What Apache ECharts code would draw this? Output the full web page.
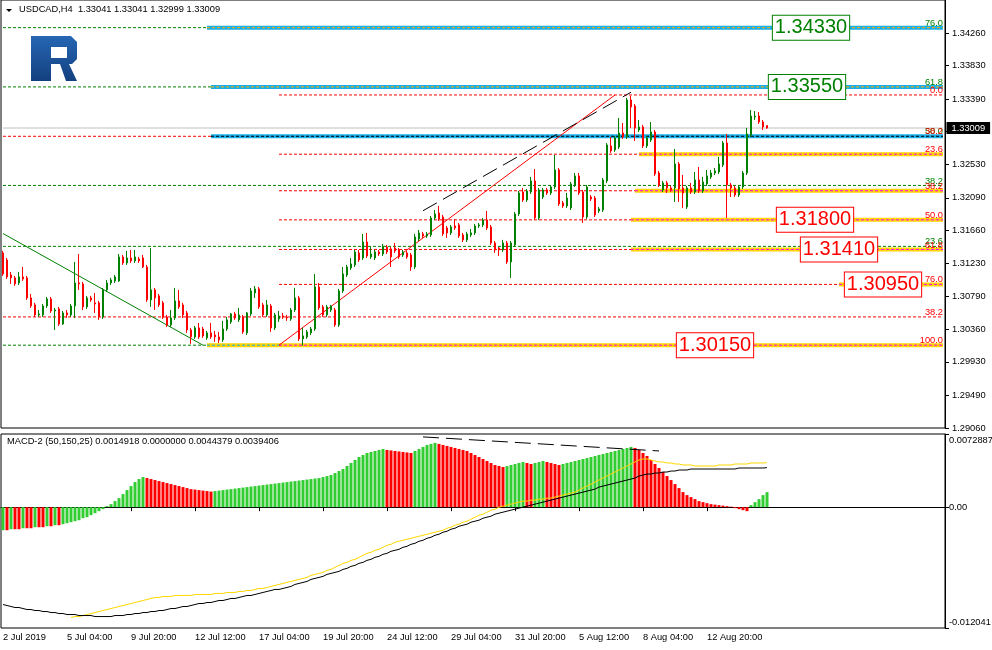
<!DOCTYPE html>
<html><head><meta charset="utf-8">
<script src="https://cdn.jsdelivr.net/npm/echarts@6/dist/echarts.min.js"></script>
<style>html,body{margin:0;padding:0;background:#fff}#c{width:992px;height:650px}</style>
</head><body><div id="c"></div>
<script>
// ---------- DATA ----------
// candles: [open, close, low, high]  (USDCAD H4)
const candles = [
[1.31365,1.31088,1.31062,1.31391],[1.31272,1.31049,1.31022,1.31299],[1.31075,1.31036,1.30957,1.31114],[1.31036,1.30957,1.30930,1.31062],
[1.30970,1.31049,1.30943,1.31114],[1.31049,1.31022,1.30996,1.31180],[1.31036,1.30772,1.30746,1.31062],[1.30772,1.30667,1.30641,1.30825],
[1.30680,1.30549,1.30522,1.30707],[1.30549,1.30562,1.30522,1.30614],[1.30549,1.30667,1.30522,1.30693],[1.30667,1.30759,1.30641,1.30785],
[1.30759,1.30601,1.30575,1.30785],[1.30601,1.30614,1.30351,1.30641],[1.30628,1.30430,1.30404,1.30654],[1.30430,1.30575,1.30417,1.30601],
[1.30575,1.30549,1.30509,1.30614],[1.30549,1.30667,1.30522,1.30693],[1.30667,1.30970,1.30509,1.31246],[1.30970,1.30957,1.30878,1.31351],
[1.30957,1.30654,1.30614,1.30983],[1.30654,1.30772,1.30628,1.30799],[1.30772,1.30746,1.30720,1.30799],[1.30707,1.30693,1.30575,1.30838],
[1.30707,1.30522,1.30483,1.30733],[1.30522,1.30878,1.30496,1.30904],[1.30878,1.30970,1.30851,1.31009],[1.30970,1.31009,1.30943,1.31036],
[1.30996,1.31049,1.30970,1.31075],[1.30996,1.31312,1.30983,1.31351],[1.31312,1.31233,1.31207,1.31338],[1.31233,1.31299,1.31207,1.31391],
[1.31299,1.31259,1.31233,1.31404],[1.31259,1.31312,1.31233,1.31404],[1.31286,1.31259,1.31233,1.31312],[1.31299,1.31180,1.31167,1.31338],
[1.31180,1.30746,1.30720,1.31207],[1.30746,1.30878,1.30654,1.31430],[1.30878,1.30772,1.30614,1.30904],[1.30799,1.30680,1.30654,1.30825],
[1.30707,1.30522,1.30496,1.30733],[1.30522,1.30417,1.30391,1.30549],[1.30417,1.30509,1.30391,1.30614],[1.30509,1.30733,1.30483,1.30904],
[1.30733,1.30654,1.30628,1.30878],[1.30680,1.30549,1.30509,1.30707],[1.30575,1.30351,1.30312,1.30601],[1.30351,1.30259,1.30167,1.30378],
[1.30259,1.30378,1.30233,1.30404],[1.30378,1.30259,1.30233,1.30443],[1.30364,1.30272,1.30246,1.30391],[1.30246,1.30312,1.30220,1.30338],
[1.30312,1.30259,1.30233,1.30443],[1.30285,1.30259,1.30193,1.30338],[1.30259,1.30220,1.30180,1.30325],[1.30220,1.30364,1.30193,1.30470],
[1.30364,1.30483,1.30338,1.30522],[1.30456,1.30562,1.30430,1.30575],[1.30562,1.30509,1.30483,1.30588],[1.30483,1.30549,1.30456,1.30641],
[1.30522,1.30325,1.30299,1.30549],[1.30312,1.30575,1.30285,1.30588],[1.30562,1.30864,1.30535,1.30904],[1.30838,1.30891,1.30772,1.30930],
[1.30891,1.30654,1.30628,1.30917],[1.30680,1.30549,1.30522,1.30707],[1.30549,1.30680,1.30522,1.30746],[1.30667,1.30378,1.30325,1.30693],
[1.30378,1.30549,1.30351,1.30575],[1.30496,1.30535,1.30456,1.30601],[1.30535,1.30522,1.30496,1.30575],[1.30522,1.30509,1.30470,1.30549],
[1.30496,1.30614,1.30470,1.30641],[1.30614,1.30772,1.30588,1.30904],[1.30772,1.30233,1.30206,1.30799],[1.30233,1.30272,1.30145,1.30378],
[1.30259,1.30325,1.30233,1.30351],[1.30312,1.30364,1.30285,1.30391],[1.30364,1.30917,1.30338,1.31088],[1.30917,1.30641,1.30614,1.30970],
[1.30654,1.30549,1.30522,1.30680],[1.30549,1.30654,1.30522,1.30680],[1.30614,1.30667,1.30588,1.30680],[1.30614,1.30417,1.30391,1.30641],
[1.30417,1.30864,1.30391,1.30891],[1.30864,1.31088,1.30838,1.31180],[1.31075,1.31180,1.31049,1.31207],[1.31167,1.31220,1.31141,1.31299],
[1.31207,1.31378,1.31180,1.31404],[1.31365,1.31272,1.31246,1.31404],[1.31299,1.31509,1.31272,1.31615],[1.31509,1.31325,1.31299,1.31628],
[1.31312,1.31351,1.31286,1.31443],[1.31299,1.31378,1.31272,1.31404],[1.31378,1.31351,1.31325,1.31404],[1.31351,1.31443,1.31325,1.31483],
[1.31443,1.31378,1.31351,1.31470],[1.31417,1.31312,1.31180,1.31443],[1.31430,1.31391,1.31365,1.31496],[1.31404,1.31312,1.31286,1.31430],
[1.31338,1.31378,1.31312,1.31404],[1.31365,1.31312,1.31286,1.31391],[1.31338,1.31180,1.31128,1.31365],[1.31180,1.31575,1.31154,1.31615],
[1.31549,1.31628,1.31522,1.31667],[1.31615,1.31588,1.31562,1.31641],[1.31588,1.31615,1.31562,1.31641],[1.31601,1.31825,1.31575,1.31851],
[1.31825,1.31878,1.31799,1.31930],[1.31891,1.31812,1.31786,1.31983],[1.31838,1.31615,1.31588,1.31865],[1.31694,1.31628,1.31562,1.31720],
[1.31628,1.31707,1.31601,1.31733],[1.31720,1.31694,1.31667,1.31812],[1.31733,1.31588,1.31562,1.31759],[1.31601,1.31536,1.31509,1.31628],
[1.31536,1.31615,1.31509,1.31641],[1.31601,1.31628,1.31575,1.31680],[1.31628,1.31720,1.31601,1.31746],[1.31720,1.31733,1.31694,1.31759],
[1.31733,1.31799,1.31707,1.31825],[1.31799,1.31694,1.31667,1.31917],[1.31707,1.31496,1.31470,1.31733],[1.31496,1.31404,1.31365,1.31522],
[1.31430,1.31404,1.31325,1.31443],[1.31404,1.31496,1.31378,1.31536],[1.31496,1.31246,1.31220,1.31522],[1.31246,1.31496,1.31036,1.31522],
[1.31470,1.31878,1.31443,1.31904],[1.31878,1.32154,1.31851,1.32180],[1.32167,1.32062,1.32036,1.32220],[1.32062,1.32180,1.32036,1.32207],
[1.32167,1.32312,1.32141,1.32365],[1.32312,1.31825,1.31799,1.32470],[1.31825,1.32194,1.31799,1.32220],[1.32101,1.32194,1.32075,1.32220],
[1.32194,1.32154,1.32128,1.32220],[1.32154,1.32233,1.32128,1.32259],[1.32233,1.32457,1.32207,1.32654],[1.32457,1.32009,1.31983,1.32483],
[1.32023,1.31983,1.31957,1.32049],[1.31983,1.32088,1.31957,1.32154],[1.31957,1.32273,1.31930,1.32299],[1.32259,1.32378,1.32233,1.32417],
[1.32378,1.32154,1.32128,1.32417],[1.32167,1.31838,1.31759,1.32194],[1.31838,1.32233,1.31812,1.32259],[1.32101,1.32075,1.32049,1.32128],
[1.32088,1.31865,1.31838,1.32115],[1.31917,1.31944,1.31891,1.31970],[1.31930,1.32325,1.31904,1.32351],[1.32312,1.32786,1.32286,1.32812],
[1.32773,1.32707,1.32681,1.32891],[1.32720,1.32878,1.32694,1.32904],[1.32759,1.32944,1.32733,1.33141],[1.32944,1.32891,1.32865,1.33075],
[1.32891,1.33378,1.32865,1.33404],[1.33378,1.33286,1.33010,1.33431],[1.33299,1.33010,1.32838,1.33325],[1.32983,1.33023,1.32957,1.33115],
[1.33023,1.32773,1.32746,1.33049],[1.32773,1.32878,1.32746,1.32904],[1.32852,1.32957,1.32825,1.33088],[1.32957,1.32404,1.32378,1.32983],
[1.32417,1.32259,1.32233,1.32444],[1.32194,1.32286,1.32167,1.32312],[1.32286,1.32220,1.32154,1.32312],[1.32220,1.32194,1.32167,1.32246],
[1.32220,1.32536,1.32036,1.32733],[1.32536,1.32207,1.32036,1.32562],[1.32220,1.32154,1.31957,1.32391],[1.31970,1.32220,1.31944,1.32246],
[1.32220,1.32167,1.32141,1.32286],[1.32167,1.32325,1.32141,1.32430],[1.32325,1.32180,1.32154,1.32496],[1.32180,1.32299,1.32154,1.32365],
[1.32273,1.32378,1.32246,1.32457],[1.32365,1.32417,1.32338,1.32457],[1.32417,1.32444,1.32391,1.32483],[1.32430,1.32536,1.32404,1.32628],
[1.32523,1.32812,1.32496,1.32838],[1.32812,1.32259,1.31825,1.32931],[1.32259,1.32220,1.32101,1.32286],[1.32220,1.32128,1.32101,1.32246],
[1.32128,1.32233,1.32101,1.32259],[1.32233,1.32417,1.32207,1.32444],[1.32417,1.32931,1.32391,1.33010],[1.32917,1.33167,1.32891,1.33246],
[1.33154,1.33167,1.33115,1.33233],[1.33167,1.33088,1.33062,1.33220],[1.33088,1.33023,1.32983,1.33115],[1.33041,1.33009,1.32999,1.33041]
];
// MACD-2 histogram
const macdHist = [
-0.0023,-0.0023,-0.0022,-0.0022,-0.0022,-0.0021,-0.0021,-0.0021,-0.0020,-0.0020,
-0.0020,-0.0019,-0.0019,-0.0018,-0.0018,-0.0017,-0.0016,-0.0015,-0.0014,-0.0013,
-0.0011,-0.0010,-0.0008,-0.0006,-0.0004,-0.0002,
0.0001,0.0003,0.0006,0.0009,0.0013,0.0017,0.0021,0.0025,0.0028,0.0030,
0.0029,0.0028,0.0027,0.0026,0.0025,0.0024,0.0023,0.0022,0.0021,0.0020,0.0019,0.0018,0.00175,0.0017,0.00165,0.0016,0.00155,
0.0016,0.00165,0.0017,0.00175,0.0018,0.00185,0.0019,0.00195,0.0020,0.00205,0.0021,0.00215,0.0022,0.00225,0.0023,0.00235,
0.0024,0.00245,0.0025,0.00255,0.0026,0.00265,0.0027,0.00275,0.0028,0.00285,0.0029,0.0030,0.0031,0.0032,0.0034,0.0036,0.0038,
0.0041,0.0044,0.0047,0.0050,0.0052,0.0054,0.0055,0.0056,0.0057,0.0058,
0.0057,0.00565,0.0056,0.00555,0.0055,0.00545,0.0054,
0.0056,0.0058,0.0060,0.0062,0.0063,0.0064,
0.0063,0.0062,0.0061,0.0060,0.0059,0.0058,0.0057,0.0056,0.0054,0.0052,0.0050,0.0048,0.0046,0.0044,0.0042,0.0041,0.0040,
0.0041,0.0042,0.0043,0.0044,0.0045,0.0044,0.0043,0.0044,0.0045,0.0046,0.0045,0.0044,0.0043,0.0042,0.0043,0.0044,0.0045,0.0046,0.0047,0.0048,
0.0049,0.0050,0.0051,0.0052,0.0053,0.0054,0.0055,0.0056,0.0057,0.0058,0.0059,0.0060,
0.0059,0.0057,0.0054,0.0051,0.0047,0.0043,0.0039,0.0035,0.0031,0.0027,0.0023,0.0019,0.0015,
0.0012,0.0010,0.0008,0.0006,0.0005,0.0004,0.0003,0.00025,0.0002,0.00015,0.0001,0.00005,
-0.0001,-0.0002,-0.0003,-0.0004,
0.0002,0.0005,0.0008,0.0012,0.0014918
];
// MACD-2 yellow line (starts later on the chart)
const macdYellow = [
null,null,null,null,null,null,null,null,null,null,
null,null,null,null,null,null,null,-0.0110,-0.0109,-0.0109,
-0.0108,-0.0107,-0.0106,-0.0105,-0.0104,-0.0103,-0.0102,-0.0101,-0.0100,-0.0099,
-0.0098,-0.0097,-0.0096,-0.0095,-0.0094,-0.0093,-0.0092,-0.0091,-0.0090,-0.0090,
-0.0089,-0.0089,-0.0089,-0.0088,-0.0088,-0.0088,-0.0088,-0.0088,-0.0087,-0.0087,
-0.0087,-0.0087,-0.0087,-0.0086,-0.0086,-0.0086,-0.0085,-0.0085,-0.0085,-0.0084,
-0.0084,-0.0083,-0.0083,-0.0082,-0.0081,-0.0081,-0.0080,-0.0079,-0.0078,-0.0077,
-0.0076,-0.0075,-0.0074,-0.0073,-0.0072,-0.0071,-0.0070,-0.0068,-0.0067,-0.0066,
-0.0065,-0.0063,-0.0062,-0.0060,-0.0058,-0.0056,-0.0055,-0.0053,-0.0052,-0.0050,
-0.0048,-0.0046,-0.0045,-0.0043,-0.0042,-0.0040,-0.0038,-0.0037,-0.0035,-0.0034,
-0.0033,-0.0032,-0.0031,-0.0030,-0.0029,-0.0028,-0.0027,-0.0026,-0.0025,-0.0024,
-0.0023,-0.0021,-0.0020,-0.0018,-0.0017,-0.0015,-0.0014,-0.0012,-0.0010,-0.0008,
-0.0007,-0.0005,-0.0003,-0.0002,0.0000,0.0001,0.0002,0.0003,0.0004,0.0005,
0.0006,0.0006,0.0007,0.0007,0.0008,0.0008,0.0009,0.0009,0.0010,0.0011,
0.0012,0.0013,0.0014,0.0015,0.0017,0.0019,0.0021,0.0023,0.0025,0.0027,
0.0029,0.0031,0.0033,0.0035,0.0037,0.0039,0.0041,0.0043,0.0045,0.0047,
0.0048,0.0048,0.0047,0.0046,0.0045,0.0045,0.0044,0.0044,0.0043,0.0043,
0.0042,0.0042,0.0042,0.0041,0.0041,0.0041,0.0041,0.0041,0.0041,0.0042,
0.0042,0.0042,0.0042,0.0043,0.0043,0.0043,0.0043,0.0044,0.0044,0.0044,0.0044,0.0044379
];
// MACD-2 black line
const macdBlack = [
-0.0097,-0.0098,-0.0099,-0.0100,-0.0100,-0.0101,-0.0102,-0.0102,-0.0103,-0.0103,
-0.0104,-0.0104,-0.0105,-0.0105,-0.0106,-0.0106,-0.0107,-0.0107,-0.0107,-0.0108,
-0.0108,-0.0108,-0.0108,-0.0109,-0.0109,-0.0109,-0.0109,-0.0109,-0.0108,-0.0108,
-0.0108,-0.0107,-0.0107,-0.0106,-0.0106,-0.0105,-0.0105,-0.0104,-0.0104,-0.0103,
-0.0103,-0.0102,-0.0101,-0.0101,-0.0100,-0.0099,-0.0099,-0.0098,-0.0097,-0.0096,
-0.0096,-0.0095,-0.0095,-0.0094,-0.0093,-0.0093,-0.0092,-0.0091,-0.0091,-0.0090,
-0.0089,-0.0088,-0.0088,-0.0087,-0.0086,-0.0085,-0.0084,-0.0083,-0.0082,-0.0082,
-0.0081,-0.0080,-0.0079,-0.0077,-0.0076,-0.0075,-0.0074,-0.0072,-0.0071,-0.0070,
-0.0069,-0.0067,-0.0066,-0.0065,-0.0064,-0.0062,-0.0061,-0.0059,-0.0058,-0.0056,
-0.0055,-0.0053,-0.0052,-0.0050,-0.0049,-0.0047,-0.0046,-0.0044,-0.0043,-0.0042,
-0.0040,-0.0039,-0.0037,-0.0036,-0.0034,-0.0033,-0.0031,-0.0030,-0.0028,-0.0027,
-0.0025,-0.0024,-0.0022,-0.0021,-0.0019,-0.0018,-0.0017,-0.0015,-0.0014,-0.0013,
-0.0011,-0.0010,-0.0009,-0.0007,-0.0006,-0.0005,-0.0004,-0.0003,-0.0002,-0.0001,
0.0000,0.0001,0.0002,0.0003,0.0004,0.0005,0.0006,0.0007,0.0008,0.0009,
0.0010,0.0011,0.0012,0.0013,0.0014,0.0015,0.0016,0.0017,0.0018,0.0020,
0.0021,0.0022,0.0023,0.0024,0.0025,0.0026,0.0027,0.0028,0.0029,0.0031,
0.0032,0.0033,0.0033,0.0034,0.0034,0.0035,0.0035,0.0036,0.0036,0.0037,
0.0037,0.0037,0.0038,0.0038,0.0038,0.0038,0.0038,0.0038,0.0038,0.0038,
0.0038,0.0038,0.0038,0.0038,0.0039,0.0039,0.0039,0.0039,0.0039,0.0039,0.0039,0.0039406
];
const tickLabels = ['2 Jul 2019','5 Jul 04:00','9 Jul 20:00','12 Jul 12:00','17 Jul 04:00','19 Jul 20:00',
  '24 Jul 12:00','29 Jul 04:00','31 Jul 20:00','5 Aug 12:00','8 Aug 04:00','12 Aug 20:00'];
const barsPerTick = 16;
const slotCount = 236;
const priceTicks = [1.34260,1.33830,1.33390,1.32960,1.32530,1.32090,1.31660,1.31230,1.30790,1.30360,1.29930,1.29490,1.29060];
const priceMin = 1.29060, priceMax = 1.34694;
const macdTicks = [0.0072887, 0, -0.012041];
const currentPrice = 1.33009;
// fibonacci / level prices
const lvl76g = 1.34330, lvl618g = 1.33550, lvl0r = 1.33444, lvl50g = 1.32900, lvl236r = 1.32664,
      lvl382g = 1.32253, lvl382r = 1.32183, lvl50r = 1.31800, lvl236g = 1.31451, lvl618r = 1.31410,
      lvl76r = 1.30950, lvl382r2 = 1.30522, lvl100r = 1.30150;
// fib level captions drawn at the right edge
const fibTexts  = ['76.0','61.8','0.0','50.0','38.2','23.6','38.2','38.2','50.0','23.6','61.8','76.0','38.2','100.0'];
const fibPrices = [lvl76g, lvl618g, lvl0r, lvl50g, lvl50g, lvl236r, lvl382g, lvl382r, lvl50r, lvl236g, lvl618r, lvl76r, lvl382r2, lvl100r];
const fibIsGreen= [true, true, false, true, false, false, true, false, false, true, false, false, false, false];
// price boxes: text, bar index, price
const boxTexts = ['1.34330','1.33550','1.31800','1.31410','1.30950','1.30150'];
const boxBars  = [202, 201, 203, 209, 220, 178];
const boxPrices= [1.34330, 1.33550, 1.31800, 1.31410, 1.30950, 1.30150];
// trend lines [bar, price]
const greenTrend = [[0, 1.31620], [50, 1.30150]];
const redTrend   = [[69, 1.30150], [153, 1.33444]];
const blackTrend = [[105, 1.31920], [157, 1.33480]];
const macdTrend  = [[105, 0.00700], [164, 0.00560]];

// ---------- CHART ----------
const F = 'Liberation Sans, Arial, sans-serif';
const FS = 9.3;
const GREEN = '#008000', RED = '#FF0000', CYAN = '#1AAEE8', GOLD = '#FFD400', MAG = '#FF00FF', LIME = '#32CD32';
const cats = Array.from({length: slotCount}, (_, i) => String(i));
const last = slotCount - 1;
const isTick = i => i % barsPerTick === 0 && i / barsPerTick < tickLabels.length;

const dash = (c, w) => ({color: c, width: w || 1, type: [3, 2]});
const solid = (c, w) => ({color: c, width: w || 1, type: 'solid'});
function seg(x1, x2, p, ls, z) {
  return {type: 'line', xAxisIndex: 0, yAxisIndex: 0, data: [[x1, p], [x2, p]], symbol: 'none', silent: true,
          z: z || 1, lineStyle: ls, itemStyle: {color: ls.color}, animation: false};
}
function tline(pts, ls, xi, z) {
  return {type: 'line', xAxisIndex: xi || 0, yAxisIndex: xi || 0, data: pts, symbol: 'none', silent: true,
          z: z || 2, lineStyle: ls, itemStyle: {color: ls.color}, animation: false};
}
const levelSeries = [
  seg(0, 51, lvl76g, dash(GREEN)), seg(51, last, lvl76g, solid(CYAN, 4)), seg(51, last, lvl76g, dash('#FFB000'), 2),
  seg(0, 52, lvl618g, dash(GREEN)), seg(52, last, lvl618g, solid(CYAN, 4)), seg(52, last, lvl618g, dash('#FFB000'), 2),
  seg(69, last, lvl0r, dash(RED)),
  seg(0, last, currentPrice, solid('#C0C0C0')),
  seg(0, 52, lvl50g, dash(RED)), seg(52, last, lvl50g, solid(CYAN, 4)), seg(52, last, lvl50g, dash('#000'), 2),
  seg(69, 159, lvl236r, dash(RED)), seg(159, last, lvl236r, solid(GOLD, 4)), seg(159, last, lvl236r, dash(MAG), 2),
  seg(0, last, lvl382g, dash(GREEN)),
  seg(69, 158, lvl382r, dash(RED)), seg(158, last, lvl382r, solid(GOLD, 4)), seg(158, last, lvl382r, dash(MAG), 2),
  seg(69, 157, lvl50r, dash(RED)), seg(157, last, lvl50r, solid(GOLD, 4)), seg(157, last, lvl50r, dash(MAG), 2),
  seg(0, last, lvl236g, dash(GREEN)),
  seg(69, 157, lvl618r, dash(RED)), seg(157, last, lvl618r, solid(GOLD, 4)), seg(157, last, lvl618r, dash(MAG), 2),
  seg(69, last, lvl76r, dash(RED)), seg(209, last, lvl76r, solid(GOLD, 4)), seg(209, last, lvl76r, dash(MAG), 2),
  seg(0, last, lvl382r2, dash(RED)),
  seg(0, 51, lvl100r, dash(GREEN)), seg(51, last, lvl100r, solid(GOLD, 4)), seg(51, 69, lvl100r, dash(CYAN), 2),
  seg(69, last, lvl100r, dash(MAG), 2),
  tline(greenTrend, solid(GREEN)), tline(redTrend, solid(RED)),
  tline(blackTrend, {color: '#000', width: 1, type: [16, 7]}),
  tline(macdTrend, {color: '#000', width: 1, type: [16, 7]}, 1, 5)
];

const chart = echarts.init(document.getElementById('c'), null, {renderer: 'canvas'});
const axisTxt = {fontSize: FS, fontFamily: F, color: '#000'};
const clear = {color: 'rgba(0,0,0,0)', opacity: 1};
chart.setOption({
  animation: false,
  backgroundColor: '#fff',
  grid: [
    {left: 1, top: 0, width: 944, height: 428, show: true, borderColor: '#000', borderWidth: 1, outerBoundsMode: 'none', containLabel: false},
    {left: 1, top: 434, width: 944, height: 194, show: true, borderColor: '#000', borderWidth: 1, outerBoundsMode: 'none', containLabel: false}
  ],
  xAxis: [
    {type: 'category', gridIndex: 0, data: cats, axisLine: {show: false}, axisTick: {show: false}, axisLabel: {show: false}, splitLine: {show: false}},
    {type: 'category', gridIndex: 1, data: cats, axisLine: {show: true, lineStyle: {color: '#000'}},
     axisTick: {show: true, interval: isTick, alignWithLabel: true, length: 4, lineStyle: {color: '#000'}},
     axisLabel: Object.assign({show: true, interval: isTick, align: 'left', margin: 5,
       formatter: (v, i) => tickLabels[i / barsPerTick] || ''}, axisTxt), splitLine: {show: false}}
  ],
  yAxis: [
    {type: 'value', gridIndex: 0, position: 'right', min: priceMin, max: priceMax, scale: true,
     axisLine: {show: true, lineStyle: {color: '#000'}},
     axisTick: {show: true, customValues: priceTicks, length: 4, lineStyle: {color: '#000'}},
     axisLabel: Object.assign({show: true, customValues: priceTicks, margin: 7, formatter: v => v.toFixed(5)}, axisTxt),
     splitLine: {show: false}},
    {type: 'value', gridIndex: 1, position: 'right', min: macdTicks[2], max: macdTicks[0],
     axisLine: {show: true, lineStyle: {color: '#000'}},
     axisTick: {show: true, customValues: macdTicks, length: 4, lineStyle: {color: '#000'}},
     axisLabel: Object.assign({show: true, customValues: macdTicks, margin: 4,
       formatter: v => v > 0.001 ? '{t|' + macdTicks[0] + '}' : (v < -0.001 ? '{b|' + macdTicks[2] + '}' : '{z|0.00}'),
       rich: {t: {padding: [12, 0, 0, 0], fontSize: FS, fontFamily: F}, b: {padding: [0, 0, 12, 0], fontSize: FS, fontFamily: F},
              z: {fontSize: FS, fontFamily: F}}}, axisTxt),
     splitLine: {show: false}}
  ],
  series: levelSeries.concat([
    {type: 'candlestick', xAxisIndex: 0, yAxisIndex: 0, data: candles, barWidth: 2, z: 3,
     itemStyle: {color: GREEN, color0: RED, borderColor: GREEN, borderColor0: RED, borderWidth: 1}},
    // fib captions
    {type: 'scatter', xAxisIndex: 0, yAxisIndex: 0, symbolSize: 1, z: 4, silent: true, clip: false, itemStyle: clear,
     data: fibTexts.map((t, i) => ({name: t, value: [last, fibPrices[i]],
       label: {show: true, position: 'inside', formatter: '{b}', color: fibIsGreen[i] ? GREEN : RED,
               align: 'right', verticalAlign: 'bottom', offset: [0, 0], fontSize: FS, fontFamily: F}}))},
    // current price tag
    {type: 'scatter', xAxisIndex: 0, yAxisIndex: 0, symbolSize: 1, z: 6, silent: true, clip: false, itemStyle: clear,
     data: [{name: currentPrice.toFixed(5), value: [last, currentPrice],
       label: {show: true, position: 'right', distance: 3, formatter: '{b}', color: '#fff', backgroundColor: '#000',
               padding: [2, 5, 1, 5], fontSize: FS, fontFamily: F}}]},
    // price boxes
    {type: 'scatter', xAxisIndex: 0, yAxisIndex: 0, symbolSize: 1, z: 5, silent: true, clip: false, itemStyle: clear,
     data: boxTexts.map((t, i) => {
       const c = i < 2 ? GREEN : RED;
       return {name: t, value: [boxBars[i], boxPrices[i]],
               label: {show: true, position: 'inside', formatter: '{b}', color: c, borderColor: c, borderWidth: 1,
                       backgroundColor: '#fff', fontSize: 20, fontFamily: F, lineHeight: 22, padding: [2, 2, 0, 2]}};
     })},
    {type: 'bar', xAxisIndex: 1, yAxisIndex: 1, data: macdHist, barWidth: 3, z: 2, silent: true,
     itemStyle: {color: p => (p.dataIndex === 0 || macdHist[p.dataIndex] > macdHist[p.dataIndex - 1]) ? LIME : RED}},
    {type: 'line', xAxisIndex: 1, yAxisIndex: 1, data: macdYellow, symbol: 'none', z: 3, silent: true, connectNulls: false,
     lineStyle: {color: '#FFD700', width: 1}, itemStyle: {color: '#FFD700'}},
    {type: 'line', xAxisIndex: 1, yAxisIndex: 1, data: macdBlack, symbol: 'none', z: 4, silent: true,
     lineStyle: {color: '#000', width: 1}, itemStyle: {color: '#000'}}
  ]),
  graphic: [
    {type: 'polygon', shape: {points: [[6, 9], [12, 9], [9, 12]]}, style: {fill: '#000'}},
    {type: 'text', x: 19, y: 5, style: {text: 'USDCAD,H4  1.33041 1.33041 1.32999 1.33009', font: FS + 'px ' + F, fill: '#000'}},
    {type: 'polygon', shape: {points: [[31, 36], [71, 36], [77, 42], [77, 59], [72, 64], [69, 64], [77, 81], [66, 81], [60, 64], [51, 64], [51, 81], [31, 81]]},
     style: {fill: new echarts.graphic.LinearGradient(0, 0, 0, 1, [{offset: 0, color: '#2666B4'}, {offset: 1, color: '#13407F'}])}},
    {type: 'rect', shape: {x: 51, y: 47, width: 16, height: 11}, style: {fill: '#fff'}},
    {type: 'text', x: 7, y: 437, style: {text: 'MACD-2 (50,150,25) 0.0014918 0.0000000 0.0044379 0.0039406', font: FS + 'px ' + F, fill: '#000'}}
  ]
});
</script></body></html>
